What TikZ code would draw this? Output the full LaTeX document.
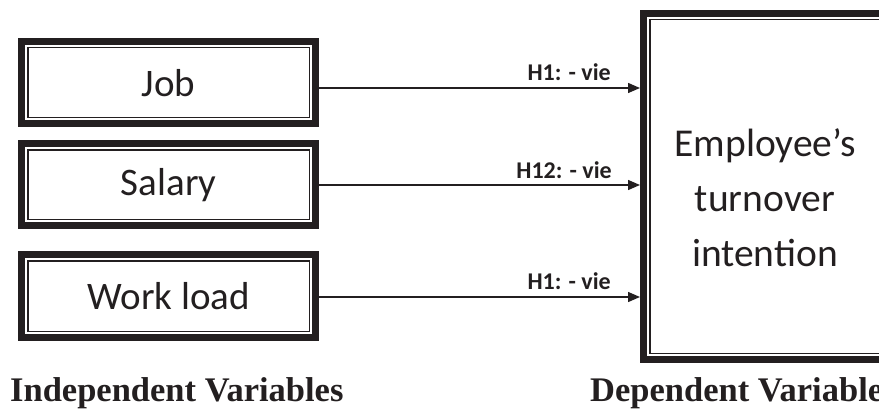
\documentclass[tikz,border=0pt]{standalone}
\usepackage{fontspec}
\setmainfont{Carlito}
\newfontfamily\timesf{Liberation Serif}
\usetikzlibrary{arrows.meta}
\definecolor{ink}{HTML}{231F20}
\newcommand\dframe[1]{%
  \draw[ink,line width=7pt] ([shift={(3.5,3.5)}]#1.north west) rectangle ([shift={(-3.5,-3.5)}]#1.south east);
  \draw[ink,line width=1.5pt] ([shift={(9.75,9.75)}]#1.north west) rectangle ([shift={(-9.75,-9.75)}]#1.south east);}
\begin{document}
\begin{tikzpicture}[x=1pt,y=-1pt,
  varbox/.style={anchor=north west,minimum width=301pt,inner sep=0pt,text=ink,
    font=\fontsize{39}{46}\selectfont},
  deptext/.style={text=ink,align=center,font=\fontsize{39.5}{55}\selectfont,inner sep=0pt},
  hyp/.style={text=ink,anchor=base east,font=\fontsize{24}{28}\selectfont\bfseries,inner sep=0pt},
  caption/.style={text=ink,anchor=base west,font=\timesf\fontsize{34.5}{40}\selectfont\bfseries,inner sep=0pt},
  arr/.style={ink,line width=1.4pt,-{Triangle[length=12pt,width=10pt]}}]
\useasboundingbox (0,0) rectangle (879,412);
\begin{scope}
\clip (0,0) rectangle (879,412);
\node[varbox,minimum height=89pt] (job) at (18,38) {Job};
\node[varbox,minimum height=89pt] (salary) at (18,140) {Salary};
\node[varbox,minimum height=90pt] (work) at (18,251) {Work load};
\node[anchor=north west,minimum width=250pt,minimum height=353pt,inner sep=0pt] (dep) at (640,10) {};
\dframe{job}
\dframe{salary}
\dframe{work}
\dframe{dep}
\node[deptext] (deptxt) at (765,198) {Employee’s\\turnover\\intention};
\draw[arr] (job.east |- 0,88) -- (dep.west |- 0,88);
\draw[arr] (salary.east |- 0,185) -- (dep.west |- 0,185);
\draw[arr] (work.east |- 0,297) -- (dep.west |- 0,297);
\node[hyp] (h1) at (611,81) {H1: - vie};
\node[hyp] (h12) at (612,178) {H12: - vie};
\node[hyp] (h3) at (611,289) {H1: - vie};
\node[caption] (indep) at (10,401) {Independent Variables};
\node[caption] (depcap) at (590,401) {Dependent Variable};
\end{scope}
\end{tikzpicture}
\end{document}
